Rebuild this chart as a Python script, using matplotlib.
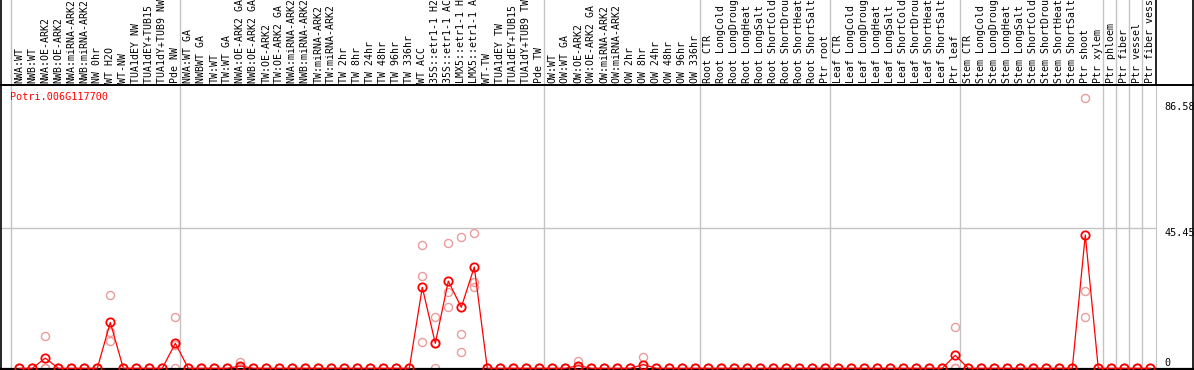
import numpy as np
import matplotlib.pyplot as plt
from matplotlib.lines import Line2D

gene = "Potri.006G117700"

samples = [
    "NWA:WT", "NWB:WT", "NWA:OE-ARK2", "NWB:OE-ARK2", "NWA:miRNA-ARK2", "NWB:miRNA-ARK2",
    "NW 0hr", "WT H2O", "WT-NW", "TUA1dEY NW", "TUA1dEY+TUB15 NW", "TUA1dY+TUB9 NW", "Pde NW",
    "NWA:WT GA", "NWBWT GA", "TW:WT", "TW:WT GA", "NWA:OE-ARK2 GA", "NWB:OE-ARK2 GA",
    "TW:OE-ARK2", "TW:OE-ARK2 GA", "NWA:miRNA-ARK2 GA", "NWB:miRNA-ARK2 GA", "TW:miRNA-ARK2",
    "TW:miRNA-ARK2 GA", "TW 2hr", "TW 8hr", "TW 24hr", "TW 48hr", "TW 96hr", "TW 336hr",
    "WT ACC", "35S::etr1-1 H2O", "35S::etr1-1 ACC", "LMX5::etr1-1 H2O", "LMX5::etr1-1 ACC",
    "WT-TW", "TUA1dEY TW", "TUA1dEY+TUB15 TW", "TUA1dY+TUB9 TW", "Pde TW",
    "OW:WT", "OW:WT GA", "OW:OE-ARK2", "OW:OE-ARK2 GA", "OW:miRNA-ARK2", "OW:miRNA-ARK2 GA",
    "OW 2hr", "OW 8hr", "OW 24hr", "OW 48hr", "OW 96hr", "OW 336hr",
    "Root CTR", "Root LongCold", "Root LongDrought", "Root LongHeat", "Root LongSalt",
    "Root ShortCold", "Root ShortDrought", "Root ShortHeat", "Root ShortSalt", "Ptr root",
    "Leaf CTR", "Leaf LongCold", "Leaf LongDrought", "Leaf LongHeat", "Leaf LongSalt",
    "Leaf ShortCold", "Leaf ShortDrought", "Leaf ShortHeat", "Leaf ShortSalt", "Ptr leaf",
    "Stem CTR", "Stem LongCold", "Stem LongDrought", "Stem LongHeat", "Stem LongSalt",
    "Stem ShortCold", "Stem ShortDrought", "Stem ShortHeat", "Stem ShortSalt", "Ptr shoot",
    "Ptr xylem", "Ptr phloem", "Ptr fiber", "Ptr vessel", "Ptr fiber vessel",
]

# mean expression per sample
mean_expr = [
    0, 0, 3.3, 0, 0, 0, 0, 14.9, 0, 0, 0, 0, 8.1,
    0, 0, 0, 0, 0.75, 0, 0, 0, 0, 0, 0, 0, 0, 0, 0, 0, 0, 0,
    26.3, 8.1, 28.3, 19.8, 32.9, 0, 0, 0, 0, 0,
    0, 0, 0.85, 0, 0, 0, 0, 1.2, 0, 0, 0, 0,
    0, 0, 0, 0, 0, 0, 0, 0, 0, 0,
    0, 0, 0, 0, 0, 0, 0, 0, 0, 4.2,
    0, 0, 0, 0, 0, 0, 0, 0, 0, 43.3,
    0, 0, 0, 0, 0,
]

# individual replicates
rep_a = [
    0, 0, 10.5, 0, 0, 0, 0, 23.7, 0, 0, 0, 0, 16.6,
    0, 0, 0, 0, 1.9, 0, 0, 0, 0, 0, 0, 0, 0, 0, 0, 0, 0, 0,
    39.9, 16.6, 40.7, 42.6, 43.9, 0, 0, 0, 0, 0,
    0, 0, 2.3, 0, 0, 0, 0, 3.7, 0, 0, 0, 0,
    0, 0, 0, 0, 0, 0, 0, 0, 0, 0,
    0, 0, 0, 0, 0, 0, 0, 0, 0, 13.3,
    0, 0, 0, 0, 0, 0, 0, 0, 0, 87.7,
    0, 0, 0, 0, 0,
]
rep_b = [
    0, 0, 0, 0, 0, 0, 0, 11.9, 0, 0, 0, 0, 7.7,
    0, 0, 0, 0, 0.3, 0, 0, 0, 0, 0, 0, 0, 0, 0, 0, 0, 0, 0,
    29.9, 8.3, 24.7, 11.0, 28.1, 0, 0, 0, 0, 0,
    0, 0, 0.3, 0, 0, 0, 0, 0, 0, 0, 0, 0,
    0, 0, 0, 0, 0, 0, 0, 0, 0, 0,
    0, 0, 0, 0, 0, 0, 0, 0, 0, 0,
    0, 0, 0, 0, 0, 0, 0, 0, 0, 25.1,
    0, 0, 0, 0, 0,
]
rep_c = [
    0, 0, 0, 0, 0, 0, 0, 8.9, 0, 0, 0, 0, 0,
    0, 0, 0, 0, 0, 0, 0, 0, 0, 0, 0, 0, 0, 0, 0, 0, 0, 0,
    8.4, 0, 19.8, 5.4, 26.3, 0, 0, 0, 0, 0,
    0, 0, 0, 0, 0, 0, 0, 0, 0, 0, 0, 0,
    0, 0, 0, 0, 0, 0, 0, 0, 0, 0,
    0, 0, 0, 0, 0, 0, 0, 0, 0, 0,
    0, 0, 0, 0, 0, 0, 0, 0, 0, 16.6,
    0, 0, 0, 0, 0,
]

# last sample index of each group (separator drawn after it)
group_ends = [-1, 12, 40, 52, 62, 72, 83, 84, 85, 86]
tick_values = [86.58, 45.45, 0]
tick_labels = ["86.58", "45.45", "0"]

W, H = 1194, 370
red = "#ff0000"
pink = "#eb9c9c"
grey = "#c4c4c4"
mono = "DejaVu Sans Mono"

fig = plt.figure(figsize=(W / 100, H / 100), dpi=100)
x = np.arange(len(samples))
xlim = (-1.408, 87.44)

# main plot area: pixels x 1..1156, y 85..369
ax = fig.add_axes([1 / W, (H - 369) / H, 1155 / W, 284 / H])
ax.set_xlim(*xlim)
ax.set_ylim(-0.23, 91.98)

for e in group_ends:
    ax.axvline(e + 0.36, color=grey, lw=1, zorder=1)
ax.axhline(45.45, color=grey, lw=1, zorder=1)

for reps in (rep_a, rep_b, rep_c):
    ax.plot(x, reps, ls="none", marker="o", ms=5.8, mfc="none", mec=pink, mew=1.0, zorder=2)
ax.plot(x, mean_expr, color=red, lw=0.9, marker="o", ms=6, mfc="none", mec=red, mew=1.3, zorder=3)

ax.set_xticks([])
ax.set_yticks(tick_values)
ax.set_yticklabels(tick_labels, family=mono, fontsize=7.3)
ax.yaxis.tick_right()
ax.tick_params(axis="y", length=0, pad=6)
for lab, v in zip(ax.get_yticklabels(), tick_values):
    lab.set_va("bottom" if v == 0 else "top")
ax.spines["top"].set_visible(False)
ax.spines["right"].set_color(grey)
ax.spines["left"].set_linewidth(1.2)
ax.spines["bottom"].set_linewidth(1.6)

ax.text(9 / 1155, (369 - 97) / 284, gene, transform=ax.transAxes, color=red,
        family=mono, fontsize=7.3, ha="left", va="center")

# header with sample names
hax = fig.add_axes([1 / W, (H - 85) / H, 1155 / W, 85 / H])
hax.set_xlim(*xlim)
hax.set_ylim(0, 85)
hax.set_xticks([])
hax.set_yticks([])
for e in group_ends:
    hax.axvline(e + 0.36, color=grey, lw=1, zorder=1)
for i, s in enumerate(samples):
    hax.text(i, 2.2, s, rotation=90, ha="center", va="bottom", family=mono,
             fontsize=7.1, clip_on=True)
hax.spines["top"].set_visible(False)
hax.spines["left"].set_linewidth(1.2)
hax.spines["bottom"].set_linewidth(1.4)
hax.spines["right"].set_linewidth(1.2)

# outer frame pieces on the right
fig.add_artist(Line2D([1156 / W, 1193 / W], [(H - 85) / H] * 2, color="black", lw=1.4))
fig.add_artist(Line2D([1156 / W, 1193 / W], [(H - 369) / H] * 2, color="black", lw=1.6))
fig.add_artist(Line2D([1193 / W] * 2, [(H - 369) / H, 1], color="black", lw=1.2))

fig.savefig("out.png", dpi=100)
